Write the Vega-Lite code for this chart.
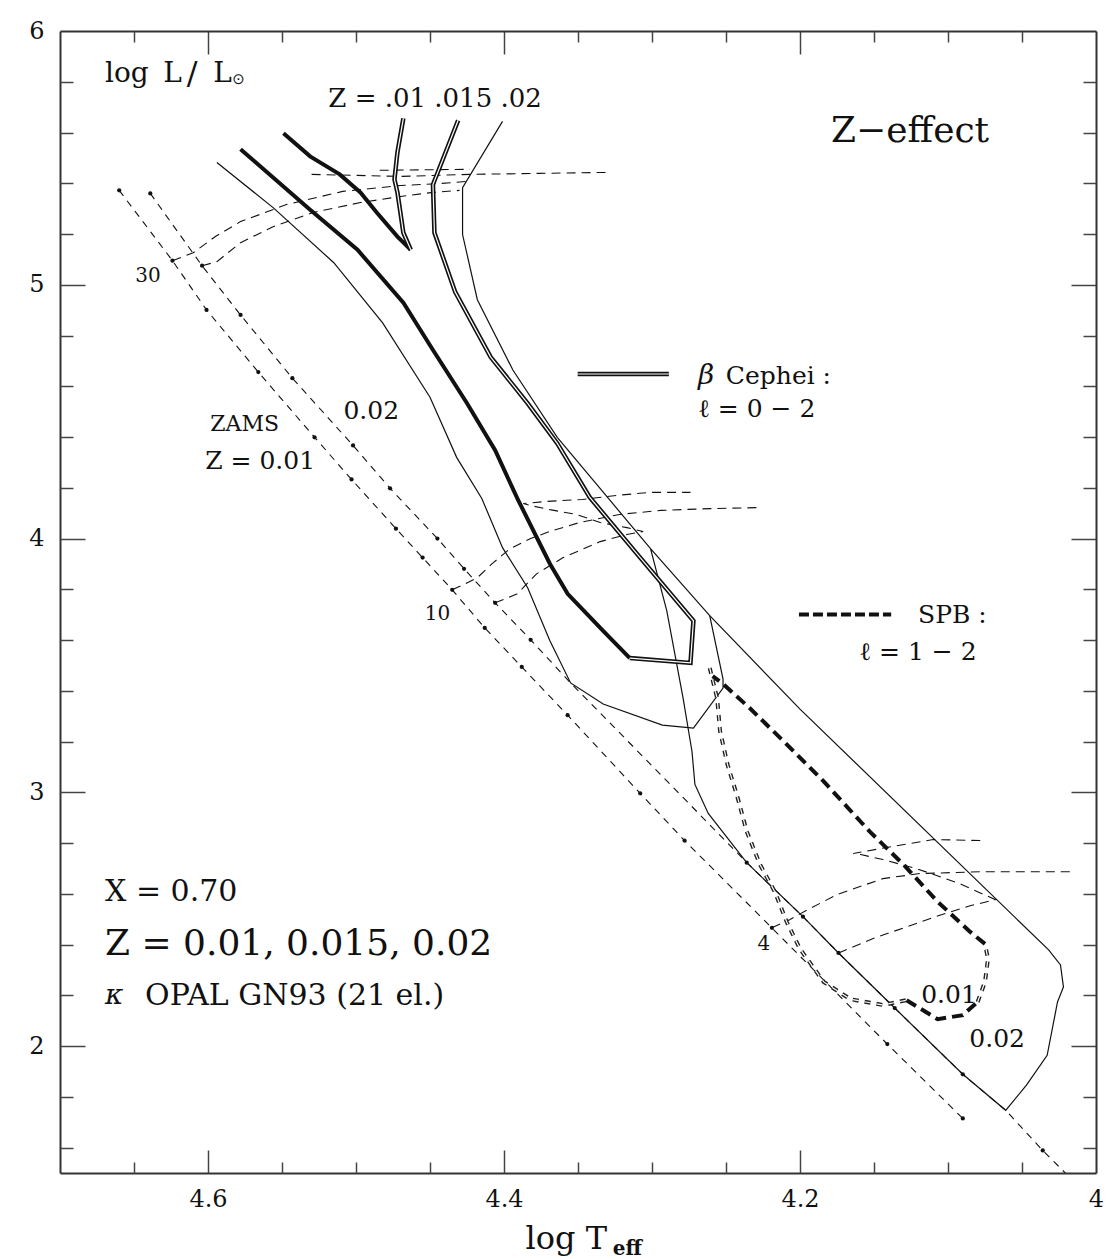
{
"$schema":"https://vega.github.io/schema/vega-lite/v6.json",
"width":1036,"height":1142,
"autosize":{"type":"none"},
"padding":{"left":60,"top":31,"right":16,"bottom":86},
"background":"white",
"config":{"view":{"stroke":null}},
"datasets":{
"lines":[
{"g":"zA","t":4.660,"l":5.372},{"g":"zA","t":4.624,"l":5.095},{"g":"zA","t":4.601,"l":4.901},{"g":"zA","t":4.566,"l":4.656},{"g":"zA","t":4.528,"l":4.399},{"g":"zA","t":4.503,"l":4.233},{"g":"zA","t":4.473,"l":4.039},{"g":"zA","t":4.455,"l":3.925},{"g":"zA","t":4.435,"l":3.798},{"g":"zA","t":4.413,"l":3.648},{"g":"zA","t":4.388,"l":3.494},{"g":"zA","t":4.357,"l":3.304},{"g":"zA","t":4.308,"l":2.996},{"g":"zA","t":4.278,"l":2.810},{"g":"zA","t":4.219,"l":2.466},{"g":"zA","t":4.141,"l":2.008},{"g":"zA","t":4.090,"l":1.715},
{"g":"zB","t":4.639,"l":5.360},{"g":"zB","t":4.604,"l":5.075},{"g":"zB","t":4.578,"l":4.881},{"g":"zB","t":4.543,"l":4.632},{"g":"zB","t":4.502,"l":4.367},{"g":"zB","t":4.477,"l":4.198},{"g":"zB","t":4.445,"l":4.000},{"g":"zB","t":4.427,"l":3.881},{"g":"zB","t":4.406,"l":3.747},{"g":"zB","t":4.382,"l":3.601},{"g":"zB","t":4.355,"l":3.431},{"g":"zB","t":4.295,"l":3.075},{"g":"zB","t":4.236,"l":2.723},{"g":"zB","t":4.198,"l":2.510},{"g":"zB","t":4.174,"l":2.367},{"g":"zB","t":4.136,"l":2.150},{"g":"zB","t":4.090,"l":1.889},{"g":"zB","t":4.061,"l":1.747},{"g":"zB","t":4.036,"l":1.589},{"g":"zB","t":4.019,"l":1.490},
{"g":"s1","t":4.594,"l":5.482},{"g":"s1","t":4.556,"l":5.304},{"g":"s1","t":4.515,"l":5.087},{"g":"s1","t":4.482,"l":4.850},{"g":"s1","t":4.450,"l":4.557},{"g":"s1","t":4.432,"l":4.320},{"g":"s1","t":4.415,"l":4.158},{"g":"s1","t":4.401,"l":3.964},{"g":"s1","t":4.384,"l":3.806},{"g":"s1","t":4.369,"l":3.597},{"g":"s1","t":4.355,"l":3.431},{"g":"s1","t":4.333,"l":3.348},{"g":"s1","t":4.293,"l":3.265},{"g":"s1","t":4.272,"l":3.253},{"g":"s1","t":4.252,"l":3.411},{"g":"s1","t":4.252,"l":3.446},{"g":"s1","t":4.261,"l":3.696},
{"g":"s2","t":4.401,"l":5.644},{"g":"s2","t":4.428,"l":5.383},{"g":"s2","t":4.428,"l":5.198},{"g":"s2","t":4.418,"l":4.941},{"g":"s2","t":4.394,"l":4.664},{"g":"s2","t":4.364,"l":4.399},{"g":"s2","t":4.330,"l":4.162},{"g":"s2","t":4.301,"l":3.960},{"g":"s2","t":4.261,"l":3.696},{"g":"s2","t":4.200,"l":3.328},{"g":"s2","t":4.032,"l":2.379},{"g":"s2","t":4.024,"l":2.320},{"g":"s2","t":4.022,"l":2.233},{"g":"s2","t":4.026,"l":2.174},{"g":"s2","t":4.033,"l":1.964},{"g":"s2","t":4.047,"l":1.846},{"g":"s2","t":4.061,"l":1.747},{"g":"s2","t":4.090,"l":1.889},{"g":"s2","t":4.136,"l":2.150},{"g":"s2","t":4.174,"l":2.367},{"g":"s2","t":4.198,"l":2.510},{"g":"s2","t":4.236,"l":2.723},{"g":"s2","t":4.262,"l":2.917},{"g":"s2","t":4.271,"l":3.031},{"g":"s2","t":4.273,"l":3.162},{"g":"s2","t":4.279,"l":3.371},{"g":"s2","t":4.290,"l":3.715},{"g":"s2","t":4.301,"l":3.960},
{"g":"b1L","t":4.549,"l":5.597},{"g":"b1L","t":4.531,"l":5.506},{"g":"b1L","t":4.511,"l":5.435},{"g":"b1L","t":4.497,"l":5.364},{"g":"b1L","t":4.486,"l":5.285},{"g":"b1L","t":4.472,"l":5.190},{"g":"b1L","t":4.463,"l":5.138},
{"g":"b1R","t":4.463,"l":5.138},{"g":"b1R","t":4.468,"l":5.205},{"g":"b1R","t":4.470,"l":5.285},{"g":"b1R","t":4.472,"l":5.364},{"g":"b1R","t":4.474,"l":5.415},{"g":"b1R","t":4.472,"l":5.522},{"g":"b1R","t":4.468,"l":5.656},
{"g":"b15L","t":4.578,"l":5.534},{"g":"b15L","t":4.531,"l":5.296},{"g":"b15L","t":4.499,"l":5.138},{"g":"b15L","t":4.468,"l":4.929},{"g":"b15L","t":4.448,"l":4.743},{"g":"b15L","t":4.425,"l":4.533},{"g":"b15L","t":4.406,"l":4.348},{"g":"b15L","t":4.391,"l":4.158},{"g":"b15L","t":4.369,"l":3.901},{"g":"b15L","t":4.357,"l":3.782},{"g":"b15L","t":4.333,"l":3.636},{"g":"b15L","t":4.315,"l":3.529},
{"g":"b15R","t":4.315,"l":3.529},{"g":"b15R","t":4.274,"l":3.510},{"g":"b15R","t":4.272,"l":3.676},{"g":"b15R","t":4.308,"l":3.925},{"g":"b15R","t":4.342,"l":4.162},{"g":"b15R","t":4.364,"l":4.375},{"g":"b15R","t":4.384,"l":4.533},{"g":"b15R","t":4.409,"l":4.715},{"g":"b15R","t":4.433,"l":4.972},{"g":"b15R","t":4.447,"l":5.205},{"g":"b15R","t":4.448,"l":5.395},{"g":"b15R","t":4.431,"l":5.648},
{"g":"legB","t":4.3502,"l":4.6485},{"g":"legB","t":4.2886,"l":4.6485},
{"g":"spL","t":4.261,"l":3.490},{"g":"spL","t":4.256,"l":3.371},{"g":"spL","t":4.254,"l":3.241},{"g":"spL","t":4.249,"l":3.110},{"g":"spL","t":4.242,"l":2.976},{"g":"spL","t":4.236,"l":2.846},{"g":"spL","t":4.227,"l":2.715},{"g":"spL","t":4.217,"l":2.608},{"g":"spL","t":4.209,"l":2.490},{"g":"spL","t":4.200,"l":2.383},{"g":"spL","t":4.184,"l":2.253},{"g":"spL","t":4.166,"l":2.185},{"g":"spL","t":4.144,"l":2.162},{"g":"spL","t":4.128,"l":2.181},
{"g":"spB","t":4.128,"l":2.181},{"g":"spB","t":4.107,"l":2.106},{"g":"spB","t":4.090,"l":2.122},{"g":"spB","t":4.080,"l":2.174},
{"g":"spL2","t":4.080,"l":2.174},{"g":"spL2","t":4.075,"l":2.253},{"g":"spL2","t":4.073,"l":2.344},{"g":"spL2","t":4.075,"l":2.403},
{"g":"spR","t":4.075,"l":2.403},{"g":"spR","t":4.085,"l":2.450},{"g":"spR","t":4.107,"l":2.569},{"g":"spR","t":4.130,"l":2.715},{"g":"spR","t":4.153,"l":2.846},{"g":"spR","t":4.184,"l":3.043},{"g":"spR","t":4.211,"l":3.201},{"g":"spR","t":4.234,"l":3.332},{"g":"spR","t":4.252,"l":3.427},{"g":"spR","t":4.259,"l":3.458},
{"g":"legS","t":4.2007,"l":3.701},{"g":"legS","t":4.1384,"l":3.701},
{"g":"tr30a","t":4.624,"l":5.095},{"g":"tr30a","t":4.610,"l":5.126},{"g":"tr30a","t":4.595,"l":5.190},{"g":"tr30a","t":4.578,"l":5.249},{"g":"tr30a","t":4.547,"l":5.316},{"g":"tr30a","t":4.509,"l":5.368},{"g":"tr30a","t":4.470,"l":5.391},{"g":"tr30a","t":4.443,"l":5.399},{"g":"tr30a","t":4.426,"l":5.407},
{"g":"tr30b","t":4.604,"l":5.075},{"g":"tr30b","t":4.594,"l":5.091},{"g":"tr30b","t":4.578,"l":5.166},{"g":"tr30b","t":4.556,"l":5.229},{"g":"tr30b","t":4.529,"l":5.285},{"g":"tr30b","t":4.497,"l":5.324},{"g":"tr30b","t":4.470,"l":5.348},{"g":"tr30b","t":4.448,"l":5.364},{"g":"tr30b","t":4.430,"l":5.372},
{"g":"tr30c","t":4.530,"l":5.435},{"g":"tr30c","t":4.470,"l":5.427},{"g":"tr30c","t":4.423,"l":5.435},{"g":"tr30c","t":4.376,"l":5.439},{"g":"tr30c","t":4.328,"l":5.443},
{"g":"tr30d","t":4.484,"l":5.451},{"g":"tr30d","t":4.423,"l":5.455},
{"g":"tr10a","t":4.435,"l":3.798},{"g":"tr10a","t":4.426,"l":3.822},{"g":"tr10a","t":4.418,"l":3.846},{"g":"tr10a","t":4.408,"l":3.901},{"g":"tr10a","t":4.396,"l":3.960},{"g":"tr10a","t":4.382,"l":4.000},{"g":"tr10a","t":4.369,"l":4.028},{"g":"tr10a","t":4.349,"l":4.063},{"g":"tr10a","t":4.322,"l":4.095},{"g":"tr10a","t":4.294,"l":4.111},{"g":"tr10a","t":4.261,"l":4.118},{"g":"tr10a","t":4.227,"l":4.122},
{"g":"tr10b","t":4.406,"l":3.747},{"g":"tr10b","t":4.391,"l":3.782},{"g":"tr10b","t":4.378,"l":3.861},{"g":"tr10b","t":4.360,"l":3.925},{"g":"tr10b","t":4.335,"l":3.988},{"g":"tr10b","t":4.317,"l":4.016},{"g":"tr10b","t":4.306,"l":4.028},{"g":"tr10b","t":4.317,"l":4.043},{"g":"tr10b","t":4.335,"l":4.063},{"g":"tr10b","t":4.351,"l":4.095},{"g":"tr10b","t":4.369,"l":4.114},{"g":"tr10b","t":4.382,"l":4.130},{"g":"tr10b","t":4.387,"l":4.138},{"g":"tr10b","t":4.372,"l":4.146},{"g":"tr10b","t":4.347,"l":4.154},{"g":"tr10b","t":4.324,"l":4.170},{"g":"tr10b","t":4.301,"l":4.182},{"g":"tr10b","t":4.274,"l":4.182},
{"g":"tr4a","t":4.219,"l":2.466},{"g":"tr4a","t":4.207,"l":2.498},{"g":"tr4a","t":4.195,"l":2.537},{"g":"tr4a","t":4.175,"l":2.597},{"g":"tr4a","t":4.144,"l":2.660},{"g":"tr4a","t":4.119,"l":2.680},{"g":"tr4a","t":4.078,"l":2.687},{"g":"tr4a","t":4.015,"l":2.687},
{"g":"tr4b","t":4.174,"l":2.367},{"g":"tr4b","t":4.151,"l":2.423},{"g":"tr4b","t":4.128,"l":2.470},{"g":"tr4b","t":4.105,"l":2.517},{"g":"tr4b","t":4.085,"l":2.553},{"g":"tr4b","t":4.068,"l":2.577},{"g":"tr4b","t":4.092,"l":2.640},{"g":"tr4b","t":4.121,"l":2.699},{"g":"tr4b","t":4.144,"l":2.735},{"g":"tr4b","t":4.159,"l":2.755},{"g":"tr4b","t":4.164,"l":2.759},{"g":"tr4b","t":4.146,"l":2.778},{"g":"tr4b","t":4.110,"l":2.814},{"g":"tr4b","t":4.078,"l":2.810}
],
"dots":[
{"t":4.660,"l":5.372},{"t":4.624,"l":5.095},{"t":4.601,"l":4.901},{"t":4.566,"l":4.656},{"t":4.528,"l":4.399},{"t":4.503,"l":4.233},{"t":4.473,"l":4.039},{"t":4.455,"l":3.925},{"t":4.435,"l":3.798},{"t":4.413,"l":3.648},{"t":4.388,"l":3.494},{"t":4.357,"l":3.304},{"t":4.308,"l":2.996},{"t":4.278,"l":2.810},{"t":4.219,"l":2.466},{"t":4.141,"l":2.008},{"t":4.090,"l":1.715},
{"t":4.639,"l":5.360},{"t":4.604,"l":5.075},{"t":4.578,"l":4.881},{"t":4.543,"l":4.632},{"t":4.502,"l":4.367},{"t":4.477,"l":4.198},{"t":4.445,"l":4.000},{"t":4.427,"l":3.881},{"t":4.406,"l":3.747},{"t":4.382,"l":3.601},{"t":4.236,"l":2.723},{"t":4.198,"l":2.510},{"t":4.174,"l":2.367},{"t":4.136,"l":2.150},{"t":4.090,"l":1.889},{"t":4.036,"l":1.589}
],
"texts":[
{"role":"lum","txt":"log","t":4.6696,"l":5.8325},{"role":"lum","txt":"L","t":4.6303,"l":5.8325},{"role":"lum","txt":"L","t":4.5965,"l":5.8325},
{"role":"lumSlash","txt":"/","t":4.6107,"l":5.83},
{"role":"sun","txt":"⊙","t":4.5836,"l":5.8089},
{"role":"zkey","txt":"Z = .01 .015 .02","t":4.5187,"l":5.7301},
{"role":"headline","txt":"Z−effect","t":4.179,"l":5.604},
{"role":"headline","txt":"Z = 0.01, 0.015, 0.02","t":4.6696,"l":2.4007},
{"role":"note","txt":"Cephei :","t":4.2501,"l":4.6387},
{"role":"note","txt":"ℓ = 0 − 2","t":4.269,"l":4.5087},
{"role":"note","txt":"SPB :","t":4.1202,"l":3.697},
{"role":"note","txt":"ℓ = 1 − 2","t":4.160,"l":3.5516},
{"role":"note","txt":"Z = 0.01","t":4.6019,"l":4.3038},
{"role":"note","txt":"0.02","t":4.5085,"l":4.5008},
{"role":"note","txt":"0.01","t":4.1181,"l":2.2006},
{"role":"note","txt":"0.02","t":4.0856,"l":2.0284},
{"role":"zams","txt":"ZAMS","t":4.5985,"l":4.4496},
{"role":"mass","txt":"30","t":4.6405,"l":5.0327},{"role":"mass","txt":"10","t":4.4449,"l":3.7009},{"role":"mass","txt":"4","t":4.2244,"l":2.4007},
{"role":"info","txt":"X = 0.70","t":4.6696,"l":2.6057},
{"role":"info","txt":"OPAL GN93 (21 el.)","t":4.6425,"l":2.1958},
{"role":"symbol","txt":"β","t":4.2690,"l":4.6387},{"role":"symbol","txt":"κ","t":4.6696,"l":2.1958},
{"role":"teff","txt":"log T","t":4.3854,"l":1.2384},
{"role":"teffSub","txt":"eff","t":4.3265,"l":1.199}
]
},
"encoding":{
"x":{"field":"t","type":"quantitative","scale":{"domain":[4.0,4.7],"reverse":true,"nice":false,"zero":false},"axis":null},
"y":{"field":"l","type":"quantitative","scale":{"domain":[1.5,6],"nice":false,"zero":false},"axis":null}
},
"resolve":{"axis":{"x":"independent","y":"independent"}},
"layer":[
{"data":{"values":[{"k":1}]},"mark":{"type":"rule","color":"#2b5200","strokeWidth":8},
 "encoding":{"x":{"datum":4.7406,"type":"quantitative"},"x2":{"datum":3.97},"y":{"datum":6.1084,"type":"quantitative"}}},
{"data":{"values":[{"k":1}]},"mark":{"type":"rule","color":"#1f3f00","strokeWidth":7},
 "encoding":{"x":{"datum":4.7382,"type":"quantitative"},"y":{"datum":6.124,"type":"quantitative"},"y2":{"datum":1.12}}},
{"data":{"name":"lines"},"transform":[{"filter":{"field":"g","oneOf":["zA","zB"]}}],
 "mark":{"type":"line","stroke":"#111","strokeWidth":1.1,"strokeDash":[7,6],"clip":true},
 "encoding":{
  "x":{"field":"t","type":"quantitative","scale":{"domain":[4.0,4.7],"reverse":true,"nice":false,"zero":false},
   "axis":{"orient":"bottom","values":[4.0,4.2,4.4,4.6],"ticks":false,"domain":true,"domainColor":"#333","domainWidth":2,"labelExpr":"abs(datum.value-4)<0.001 ? '4' : format(datum.value,'.1f')","labelFont":"DejaVu Serif","labelFontSize":24,"labelColor":"#111","labelPadding":14,"labelFlush":false,"labelOverlap":false,"grid":false,"title":null,"zindex":1}},
  "y":{"field":"l","type":"quantitative","scale":{"domain":[1.5,6],"nice":false,"zero":false},
   "axis":{"orient":"left","values":[2,3,4,5,6],"ticks":false,"domain":true,"domainColor":"#333","domainWidth":2,"format":"d","labelFont":"DejaVu Serif","labelFontSize":24,"labelColor":"#111","labelPadding":16,"labelFlush":false,"labelOverlap":false,"grid":false,"title":null,"zindex":1}},
  "detail":{"field":"g","type":"nominal"},"order":{"value":null}}},
{"data":{"name":"lines"},"transform":[{"filter":"indexof(datum.g,'tr')==0"}],
 "mark":{"type":"line","stroke":"#111","strokeWidth":1.1,"strokeDash":[9,6]},
 "encoding":{
  "x":{"field":"t","type":"quantitative","scale":{"domain":[4.0,4.7],"reverse":true,"nice":false,"zero":false},
   "axis":{"orient":"bottom","values":[4.2,4.4,4.6],"labels":false,"domain":false,"tickSize":-23,"tickColor":"#444","tickWidth":1.5,"grid":false,"title":null,"zindex":1}},
  "y":{"field":"l","type":"quantitative","scale":{"domain":[1.5,6],"nice":false,"zero":false},
   "axis":{"orient":"left","values":[2,3,4,5],"labels":false,"domain":false,"tickSize":-25,"tickColor":"#444","tickWidth":1.5,"grid":false,"title":null,"zindex":1}},
  "detail":{"field":"g","type":"nominal"},"order":{"value":null}}},
{"data":{"name":"lines"},"transform":[{"filter":{"field":"g","oneOf":["s1","s2"]}}],
 "mark":{"type":"line","stroke":"#111","strokeWidth":1.2},
 "encoding":{
  "x":{"field":"t","type":"quantitative","scale":{"domain":[4.0,4.7],"reverse":true,"nice":false,"zero":false},
   "axis":{"orient":"bottom","values":[4.05,4.1,4.15,4.25,4.3,4.35,4.45,4.5,4.55,4.65],"labels":false,"domain":false,"tickSize":-11,"tickColor":"#444","tickWidth":1.5,"grid":false,"title":null,"zindex":1}},
  "y":{"field":"l","type":"quantitative","scale":{"domain":[1.5,6],"nice":false,"zero":false},
   "axis":{"orient":"left","values":[1.6,1.8,2.2,2.4,2.6,2.8,3.2,3.4,3.6,3.8,4.2,4.4,4.6,4.8,5.2,5.4,5.6,5.8],"labels":false,"domain":false,"tickSize":-13,"tickColor":"#444","tickWidth":1.5,"grid":false,"title":null,"zindex":1}},
  "detail":{"field":"g","type":"nominal"},"order":{"value":null}}},
{"data":{"name":"lines"},"transform":[{"filter":{"field":"g","oneOf":["b1L","b15L"]}}],
 "mark":{"type":"line","stroke":"#111","strokeWidth":4},
 "encoding":{
  "x":{"field":"t","type":"quantitative","scale":{"domain":[4.0,4.7],"reverse":true,"nice":false,"zero":false},
   "axis":{"orient":"top","values":[4.2,4.4,4.6],"labels":false,"domain":true,"domainColor":"#333","domainWidth":2,"tickSize":-23,"tickColor":"#444","tickWidth":1.5,"grid":false,"title":null,"zindex":1}},
  "y":{"field":"l","type":"quantitative","scale":{"domain":[1.5,6],"nice":false,"zero":false},
   "axis":{"orient":"right","values":[2,3,4,5],"labels":false,"domain":true,"domainColor":"#333","domainWidth":2,"tickSize":-25,"tickColor":"#444","tickWidth":1.5,"grid":false,"title":null,"zindex":1}},
  "detail":{"field":"g","type":"nominal"},"order":{"value":null}}},
{"data":{"name":"lines"},"transform":[{"filter":{"field":"g","oneOf":["b1R","b15R","legB"]}}],
 "mark":{"type":"line","stroke":"#111","strokeWidth":4.5},
 "encoding":{
  "x":{"field":"t","type":"quantitative","scale":{"domain":[4.0,4.7],"reverse":true,"nice":false,"zero":false},
   "axis":{"orient":"top","values":[4.05,4.1,4.15,4.25,4.3,4.35,4.45,4.5,4.55,4.65],"labels":false,"domain":false,"tickSize":-11,"tickColor":"#444","tickWidth":1.5,"grid":false,"title":null,"zindex":1}},
  "y":{"field":"l","type":"quantitative","scale":{"domain":[1.5,6],"nice":false,"zero":false},
   "axis":{"orient":"right","values":[1.6,1.8,2.2,2.4,2.6,2.8,3.2,3.4,3.6,3.8,4.2,4.4,4.6,4.8,5.2,5.4,5.6,5.8],"labels":false,"domain":false,"tickSize":-13,"tickColor":"#444","tickWidth":1.5,"grid":false,"title":null,"zindex":1}},
  "detail":{"field":"g","type":"nominal"},"order":{"value":null}}},
{"data":{"name":"lines"},"transform":[{"filter":{"field":"g","oneOf":["b1R","b15R","legB"]}}],
 "mark":{"type":"line","stroke":"white","strokeWidth":1.2},
 "encoding":{"detail":{"field":"g","type":"nominal"},"order":{"value":null}}},
{"data":{"name":"lines"},"transform":[{"filter":{"field":"g","oneOf":["spB","spR"]}}],
 "mark":{"type":"line","stroke":"#111","strokeWidth":4,"strokeDash":[11,6]},
 "encoding":{"detail":{"field":"g","type":"nominal"},"order":{"value":null}}},
{"data":{"name":"lines"},"transform":[{"filter":{"field":"g","oneOf":["spL","spL2"]}}],
 "mark":{"type":"line","stroke":"#222","strokeWidth":4,"strokeDash":[6,6]},
 "encoding":{"detail":{"field":"g","type":"nominal"},"order":{"value":null}}},
{"data":{"name":"lines"},"transform":[{"filter":{"field":"g","oneOf":["spL","spL2"]}}],
 "mark":{"type":"line","stroke":"white","strokeWidth":1.2,"strokeDash":[6,6]},
 "encoding":{"detail":{"field":"g","type":"nominal"},"order":{"value":null}}},
{"data":{"name":"lines"},"transform":[{"filter":{"field":"g","equal":"legS"}}],
 "mark":{"type":"line","stroke":"#111","strokeWidth":4,"strokeDash":[10,4]},
 "encoding":{"detail":{"field":"g","type":"nominal"},"order":{"value":null}}},
{"data":{"name":"dots"},"mark":{"type":"point","filled":true,"color":"#111","size":18,"opacity":1},"encoding":{}},
{"data":{"name":"texts"},"transform":[{"filter":{"field":"role","equal":"lum"}}],"mark":{"type":"text","align":"left","baseline":"middle","font":"DejaVu Serif","fontSize":28,"color":"#111"},"encoding":{"text":{"field":"txt"}}},
{"data":{"name":"texts"},"transform":[{"filter":{"field":"role","equal":"lumSlash"}}],"mark":{"type":"text","align":"center","baseline":"middle","font":"DejaVu Serif","fontSize":32,"color":"#111"},"encoding":{"text":{"field":"txt"}}},
{"data":{"name":"texts"},"transform":[{"filter":{"field":"role","equal":"sun"}}],"mark":{"type":"text","align":"left","baseline":"middle","font":"DejaVu Sans","fontSize":15,"color":"#111"},"encoding":{"text":{"field":"txt"}}},
{"data":{"name":"texts"},"transform":[{"filter":{"field":"role","equal":"zkey"}}],"mark":{"type":"text","align":"left","baseline":"middle","font":"DejaVu Serif","fontSize":26,"color":"#111"},"encoding":{"text":{"field":"txt"}}},
{"data":{"name":"texts"},"transform":[{"filter":{"field":"role","equal":"headline"}}],"mark":{"type":"text","align":"left","baseline":"middle","font":"DejaVu Serif","fontSize":36,"color":"#111"},"encoding":{"text":{"field":"txt"}}},
{"data":{"name":"texts"},"transform":[{"filter":{"field":"role","equal":"note"}}],"mark":{"type":"text","align":"left","baseline":"middle","font":"DejaVu Serif","fontSize":25,"color":"#111"},"encoding":{"text":{"field":"txt"}}},
{"data":{"name":"texts"},"transform":[{"filter":{"field":"role","equal":"zams"}}],"mark":{"type":"text","align":"left","baseline":"middle","font":"DejaVu Serif","fontSize":22,"color":"#111"},"encoding":{"text":{"field":"txt"}}},
{"data":{"name":"texts"},"transform":[{"filter":{"field":"role","equal":"mass"}}],"mark":{"type":"text","align":"center","baseline":"middle","font":"DejaVu Serif","fontSize":20,"color":"#111"},"encoding":{"text":{"field":"txt"}}},
{"data":{"name":"texts"},"transform":[{"filter":{"field":"role","equal":"info"}}],"mark":{"type":"text","align":"left","baseline":"middle","font":"DejaVu Serif","fontSize":30,"color":"#111"},"encoding":{"text":{"field":"txt"}}},
{"data":{"name":"texts"},"transform":[{"filter":{"field":"role","equal":"symbol"}}],"mark":{"type":"text","align":"left","baseline":"middle","font":"DejaVu Serif","fontStyle":"italic","fontSize":28,"color":"#111"},"encoding":{"text":{"field":"txt"}}},
{"data":{"name":"texts"},"transform":[{"filter":{"field":"role","equal":"teff"}}],"mark":{"type":"text","align":"left","baseline":"middle","font":"DejaVu Serif","fontSize":32,"color":"#111"},"encoding":{"text":{"field":"txt"}}},
{"data":{"name":"texts"},"transform":[{"filter":{"field":"role","equal":"teffSub"}}],"mark":{"type":"text","align":"left","baseline":"middle","font":"DejaVu Serif","fontWeight":"bold","fontSize":20,"color":"#111"},"encoding":{"text":{"field":"txt"}}}
]
}
